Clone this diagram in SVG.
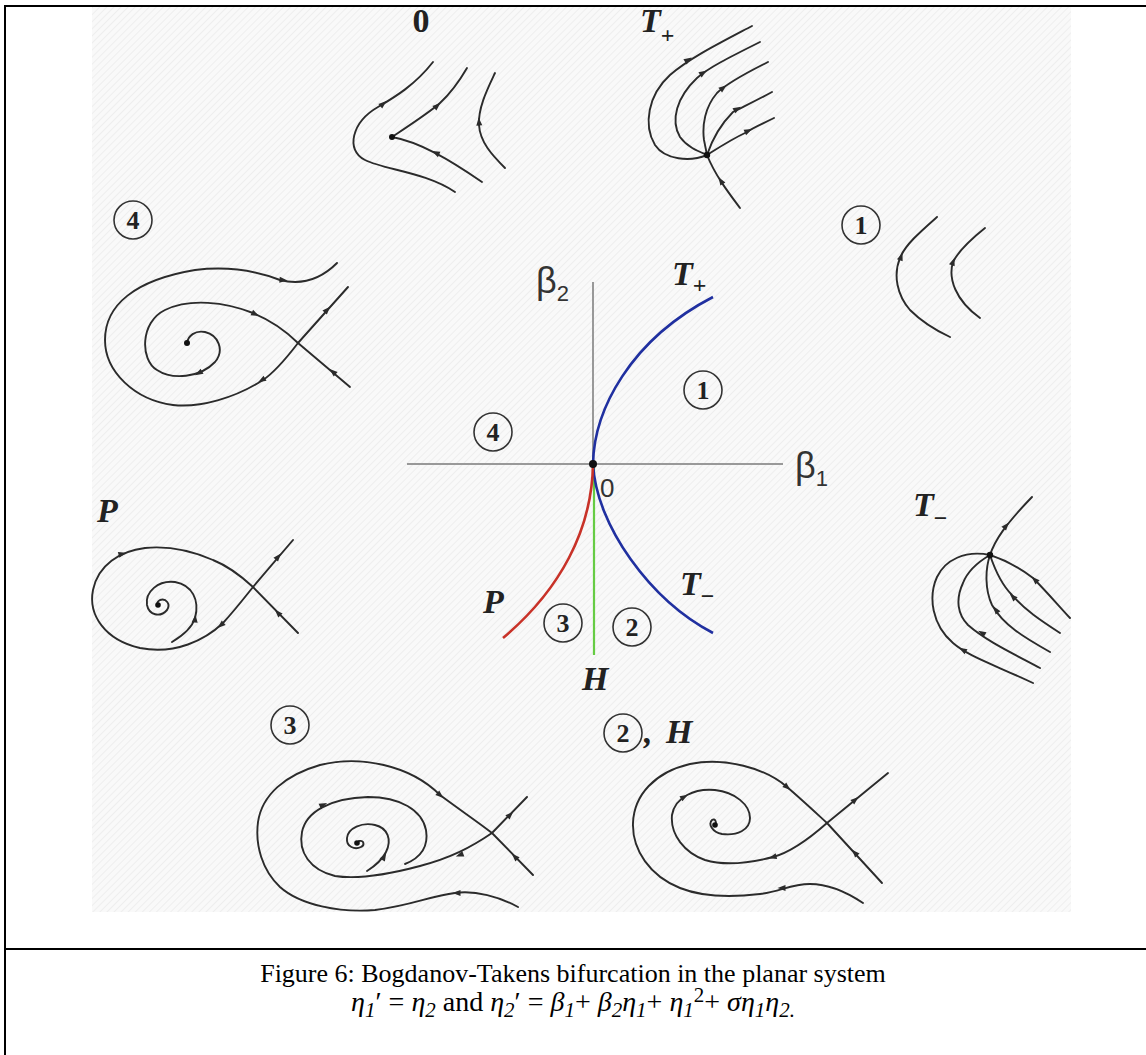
<svg xmlns="http://www.w3.org/2000/svg" width="1146" height="1055" viewBox="0 0 1146 1055">
<defs>
<pattern id="hatch" width="5" height="5" patternUnits="userSpaceOnUse" patternTransform="rotate(45)">
<rect width="5" height="5" fill="#f9f9f9"/>
<line x1="0" y1="0" x2="0" y2="5" stroke="#eeeeee" stroke-width="2"/>
</pattern>
<path id="ah" d="M4.5,0 L-3.5,-3 L-3.5,3 Z"/>
</defs>
<style>
.pc{fill:none;stroke:#2b2b2b;stroke-width:1.9;stroke-linecap:round;stroke-linejoin:round}
.ar{fill:#2b2b2b}
.dot{fill:#111}
.circ{fill:none;stroke:#333;stroke-width:1.6}
.num{font-family:"Liberation Serif",serif;font-weight:bold;font-size:26px;fill:#222;text-anchor:middle}
.lab{font-family:"Liberation Serif",serif;font-weight:bold;font-style:italic;font-size:34px;fill:#222}
.up{font-style:normal}
.ax{font-family:"Liberation Sans",sans-serif;fill:#333}
.cap{font-family:"Liberation Serif",serif;font-size:26px;fill:#000}
.cap2{font-family:"Liberation Serif",serif;font-size:28px;fill:#000}
.it{font-style:italic}
.sb{font-style:italic;font-size:21px}
.frame{stroke:#000;stroke-width:2;fill:none}
</style>
<rect width="1146" height="1055" fill="#fff"/>
<rect x="92" y="7" width="979" height="905" fill="url(#hatch)"/>
<g id="frame">
<path class="frame" d="M4,6 H1146 M5,5 V1055 M4,949 H1146"/>
</g>

<g id="bifurcation-diagram">
<line x1="407" y1="464" x2="783" y2="464" stroke="#999" stroke-width="2"/>
<line x1="593" y1="282" x2="593" y2="464" stroke="#999" stroke-width="2"/>
<line x1="594" y1="464" x2="594" y2="655" stroke="#66cc44" stroke-width="2.2"/>
<path d="M593,464 C594,410 630,340 713,297" fill="none" stroke="#2030a0" stroke-width="2.6"/>
<path d="M593,464 C596,525 650,600 713,633" fill="none" stroke="#2030a0" stroke-width="2.6"/>
<path d="M593,464 C592,530 560,590 503,638" fill="none" stroke="#c83228" stroke-width="2.6"/>
<circle cx="593" cy="464" r="4" class="dot"/>
<text class="ax" x="536" y="293" font-size="36">β<tspan font-size="22" dy="8">2</tspan></text>
<text class="ax" x="795" y="478" font-size="36">β<tspan font-size="22" dy="8">1</tspan></text>
<text class="ax" x="600" y="497" font-size="26">0</text>
<text class="lab" x="672" y="285">T<tspan class="up" font-size="24" dy="8">+</tspan></text>
<text class="lab" x="680" y="595">T<tspan class="up" font-size="24" dy="9">−</tspan></text>
<text class="lab" x="483" y="613">P</text>
<text class="lab" x="582" y="690">H</text>
<circle class="circ" cx="703" cy="390" r="19"/><text class="num" x="703" y="399">1</text>
<circle class="circ" cx="493" cy="432" r="19"/><text class="num" x="493" y="441">4</text>
<circle class="circ" cx="563" cy="623" r="19"/><text class="num" x="563" y="632">3</text>
<circle class="circ" cx="632" cy="627" r="19"/><text class="num" x="632" y="636">2</text>
</g>

<g id="portrait-0">
<text class="lab up" x="421" y="32" text-anchor="middle" font-size="36">0</text>
<path class="pc" d="M433,62 C415,85 395,97 378,107 C352,122 345,150 365,160 C385,170 425,172 455,192"/>
<path class="pc" d="M392,137 C410,125 430,112 440,103 C452,92 460,80 467,68"/>
<path class="pc" d="M392,137 C420,142 450,160 482,182"/>
<path class="pc" d="M495,73 C487,90 478,108 479,125 C480,142 492,155 505,168"/>
<circle cx="392" cy="137" r="3" class="dot"/>
<use href="#ah" class="ar" transform="translate(383,104) rotate(-40)"/>
<use href="#ah" class="ar" transform="translate(437,106) rotate(-42)"/>
<use href="#ah" class="ar" transform="translate(436,153) rotate(205)"/>
<use href="#ah" class="ar" transform="translate(479,122) rotate(-95)"/>
</g>

<g id="portrait-Tplus">
<text class="lab" x="640" y="32">T<tspan class="up" font-size="24" dy="11">+</tspan></text>
<path class="pc" d="M752,26 C716,45 690,58 670,75 C648,95 643,125 655,145 C665,160 690,162 707,155"/>
<path class="pc" d="M760,42 C728,58 708,68 697,78 C677,97 670,120 680,137 C688,148 700,152 707,155"/>
<path class="pc" d="M768,62 C742,75 725,85 717,93 C705,107 702,125 704,140 L707,155"/>
<path class="pc" d="M772,92 C752,103 740,108 733,112 C720,125 712,140 707,155"/>
<path class="pc" d="M774,118 C762,124 752,128 747,132 C730,140 715,150 707,155"/>
<path class="pc" d="M707,155 C715,175 728,192 740,208"/>
<circle cx="707" cy="155" r="3.2" class="dot"/>
<use href="#ah" class="ar" transform="translate(688,60) rotate(-32)"/>
<use href="#ah" class="ar" transform="translate(703,73) rotate(-32)"/>
<use href="#ah" class="ar" transform="translate(723,88) rotate(-38)"/>
<use href="#ah" class="ar" transform="translate(737,109) rotate(-30)"/>
<use href="#ah" class="ar" transform="translate(748,131) rotate(-25)"/>
<use href="#ah" class="ar" transform="translate(721,181) rotate(-122)"/>
</g>

<g id="portrait-1">
<circle class="circ" cx="861" cy="225" r="19"/><text class="num" x="861" y="234">1</text>
<path class="pc" d="M937,217 C920,232 905,245 900,258 C893,275 897,295 910,310 C922,322 935,330 950,337"/>
<path class="pc" d="M985,228 C970,240 958,252 953,262 C948,278 955,300 980,318"/>
<use href="#ah" class="ar" transform="translate(901,257) rotate(-70)"/>
<use href="#ah" class="ar" transform="translate(953,262) rotate(-70)"/>
</g>

<g id="portrait-4">
<circle class="circ" cx="133" cy="220" r="19"/><text class="num" x="133" y="229">4</text>
<path class="pc" d="M298,343 C285,360 275,372 263,380 C235,398 200,408 173,405 C135,400 105,372 105,340 C105,305 135,280 195,270 C235,265 262,273 280,280 C300,285 320,280 337,263"/>
<path class="pc" d="M298,343 C285,330 270,320 253,313 C225,302 190,298 165,310 C140,322 140,360 157,370 C172,380 200,378 215,362 C225,350 218,335 205,332 C195,330 188,336 187,343"/>
<path class="pc" d="M298,343 L348,287 M298,343 L350,387"/>
<circle cx="187" cy="343" r="3" class="dot"/>
<use href="#ah" class="ar" transform="translate(283,280) rotate(5)"/>
<use href="#ah" class="ar" transform="translate(262,380) rotate(150)"/>
<use href="#ah" class="ar" transform="translate(255,314) rotate(25)"/>
<use href="#ah" class="ar" transform="translate(199,373) rotate(150)"/>
<use href="#ah" class="ar" transform="translate(327,310) rotate(-48)"/>
<use href="#ah" class="ar" transform="translate(333,372) rotate(-140)"/>
</g>

<g id="portrait-P">
<text class="lab" x="97" y="522">P</text>
<path class="pc" d="M253,587 C240,575 228,566 213,560 C190,550 165,546 145,548 C120,551 98,565 93,590 C88,615 105,640 140,648 C175,655 205,640 223,623 C235,610 245,597 253,587"/>
<path class="pc" d="M253,587 L293,540 M253,587 L298,633"/>
<path class="pc" d="M172,642 C182,636 192,628 195,618 C200,600 192,585 175,582 C158,580 145,592 147,605 C149,615 160,618 167,610 C171,604 166,598 160,600 C156,602 157,606 159,606"/>
<circle cx="158" cy="605" r="2.8" class="dot"/>
<use href="#ah" class="ar" transform="translate(122,554) rotate(-15)"/>
<use href="#ah" class="ar" transform="translate(221,625) rotate(140)"/>
<use href="#ah" class="ar" transform="translate(278,557) rotate(-50)"/>
<use href="#ah" class="ar" transform="translate(278,613) rotate(-134)"/>
<use href="#ah" class="ar" transform="translate(195,619) rotate(-85)"/>
</g>

<g id="portrait-3">
<circle class="circ" cx="290" cy="725" r="19"/><text class="num" x="290" y="734">3</text>
<path class="pc" d="M518,907 C500,897 475,890 455,893 C430,896 410,906 375,910 C340,913 300,905 280,887 C262,870 255,845 258,822 C262,795 285,775 320,765 C360,755 410,765 440,795 C460,810 478,822 492,833"/>
<path class="pc" d="M492,833 C470,848 450,858 420,866 C390,874 360,880 335,876 C310,870 298,852 302,832 C306,812 330,798 368,797 C400,797 422,810 426,830 C429,848 420,858 405,864"/>
<path class="pc" d="M367,871 C375,866 382,860 386,852 C392,840 388,828 375,825 C362,822 348,828 347,838 C346,847 355,850 361,847 C365,845 364,840 359,841"/>
<path class="pc" d="M492,833 L527,797 M492,833 L533,875"/>
<circle cx="357" cy="843" r="2.8" class="dot"/>
<use href="#ah" class="ar" transform="translate(440,795) rotate(40)"/>
<use href="#ah" class="ar" transform="translate(457,893) rotate(180)"/>
<use href="#ah" class="ar" transform="translate(323,805) rotate(-25)"/>
<use href="#ah" class="ar" transform="translate(460,855) rotate(160)"/>
<use href="#ah" class="ar" transform="translate(384,857) rotate(-60)"/>
<use href="#ah" class="ar" transform="translate(510,815) rotate(-45)"/>
<use href="#ah" class="ar" transform="translate(515,857) rotate(-135)"/>
</g>

<g id="portrait-2H">
<circle class="circ" cx="623" cy="733" r="19"/><text class="num" x="623" y="742">2</text>
<text class="lab" x="644" y="743">,</text>
<text class="lab" x="666" y="743">H</text>
<path class="pc" d="M863,903 C848,893 830,884 810,884 C790,884 780,892 760,894 C735,897 705,898 680,888 C650,876 632,850 633,823 C634,795 655,772 690,764 C725,757 765,768 787,787 C800,798 815,812 827,823"/>
<path class="pc" d="M827,823 C810,838 792,852 773,857 C750,863 725,866 705,860 C685,853 670,835 672,815 C675,797 695,788 715,790 C735,792 750,805 750,818 C750,830 737,836 722,834 C712,832 708,824 712,820 C715,818 717,822 715,825"/>
<path class="pc" d="M827,823 L888,773 M827,823 L882,883"/>
<circle cx="715" cy="825" r="2.8" class="dot"/>
<use href="#ah" class="ar" transform="translate(787,787) rotate(40)"/>
<use href="#ah" class="ar" transform="translate(782,888) rotate(180)"/>
<use href="#ah" class="ar" transform="translate(773,857) rotate(165)"/>
<use href="#ah" class="ar" transform="translate(684,797) rotate(-30)"/>
<use href="#ah" class="ar" transform="translate(855,800) rotate(-40)"/>
<use href="#ah" class="ar" transform="translate(855,853) rotate(-132)"/>
</g>

<g id="portrait-Tminus">
<text class="lab" x="913" y="516">T<tspan class="up" font-size="24" dy="10">−</tspan></text>
<path class="pc" d="M990,555 C995,540 1005,525 1032,497"/>
<path class="pc" d="M990,555 C965,550 945,560 937,577 C928,597 932,625 953,643 C968,656 990,663 1033,683"/>
<path class="pc" d="M990,555 C978,562 968,570 963,583 C955,600 958,615 968,625 C985,640 1010,652 1040,668"/>
<path class="pc" d="M990,555 C985,570 985,590 992,605 C1003,625 1025,638 1050,652"/>
<path class="pc" d="M990,555 C995,570 1002,585 1012,595 C1025,610 1040,620 1060,633"/>
<path class="pc" d="M990,555 C1005,560 1020,568 1033,578 C1045,590 1058,605 1070,618"/>
<circle cx="990" cy="555" r="3.2" class="dot"/>
<use href="#ah" class="ar" transform="translate(1006,526) rotate(-50)"/>
<use href="#ah" class="ar" transform="translate(963,650) rotate(-150)"/>
<use href="#ah" class="ar" transform="translate(982,633) rotate(-150)"/>
<use href="#ah" class="ar" transform="translate(996,610) rotate(-125)"/>
<use href="#ah" class="ar" transform="translate(1013,597) rotate(-135)"/>
<use href="#ah" class="ar" transform="translate(1035,580) rotate(-135)"/>
</g>

<g id="caption">
<text class="cap" x="573" y="982" text-anchor="middle">Figure 6: Bogdanov-Takens bifurcation in the planar system</text>
<text class="cap2" x="573" y="1011" text-anchor="middle"><tspan class="it">η</tspan><tspan class="sb" dy="6">1</tspan><tspan dy="-6">′ = </tspan><tspan class="it">η</tspan><tspan class="sb" dy="6">2</tspan><tspan dy="-6"> and </tspan><tspan class="it">η</tspan><tspan class="sb" dy="6">2</tspan><tspan dy="-6">′ = </tspan><tspan class="it">β</tspan><tspan class="sb" dy="6">1</tspan><tspan dy="-6">+ </tspan><tspan class="it">β</tspan><tspan class="sb" dy="6">2</tspan><tspan class="it" dy="-6">η</tspan><tspan class="sb" dy="6">1</tspan><tspan dy="-6">+ </tspan><tspan class="it">η</tspan><tspan class="sb" dy="6">1</tspan><tspan font-size="21" dy="-15">2</tspan><tspan dy="9">+ </tspan><tspan class="it">ση</tspan><tspan class="sb" dy="6">1</tspan><tspan class="it" dy="-6">η</tspan><tspan class="sb" dy="6">2.</tspan></text>
</g>
</svg>
